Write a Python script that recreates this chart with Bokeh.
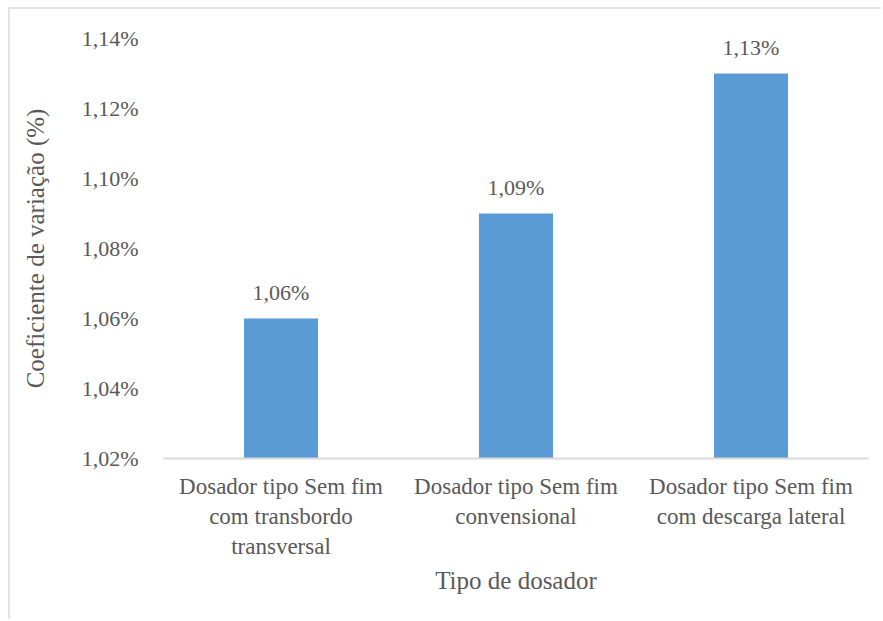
from bokeh.plotting import figure
from bokeh.models import ColumnDataSource, FixedTicker, CustomJSTickFormatter
from bokeh.core.properties import value
from bokeh.embed import file_html
from bokeh.resources import INLINE

# Data: coefficient of variation per feeder type
categories = [
    "Dosador tipo Sem fim\ncom transbordo\ntransversal",
    "Dosador tipo Sem fim\nconvensional",
    "Dosador tipo Sem fim\ncom descarga lateral",
]
cv_values = [1.06, 1.09, 1.13]
value_labels = ["1,06%", "1,09%", "1,13%"]
y_ticks = [1.02, 1.04, 1.06, 1.08, 1.10, 1.12, 1.14]

FONT = "Liberation Serif"
TEXT = "#595959"
BAR = "#5b9bd5"

src = ColumnDataSource(dict(cat=categories, val=cv_values, lab=value_labels))

p = figure(
    x_range=categories,
    y_range=(1.02, 1.14),
    width=873,
    height=612,
    output_backend="svg",
    toolbar_location=None,
    min_border_left=153,
    min_border_right=15,
    min_border_top=29,
    min_border_bottom=163,
)
p.styles = {
    "margin-left": "8px",
    "margin-top": "7px",
    "border-top": "2px solid #e4e4e4",
    "border-left": "2px solid #e4e4e4",
}

p.vbar(x="cat", top="val", bottom=1.02, width=0.315, source=src,
       fill_color=BAR, line_color=None)

# value labels above the bars
p.text(x="cat", y="val", text="lab", source=src,
       text_align="center", text_baseline="bottom", y_offset=-14,
       text_font=value(FONT), text_font_size="22px", text_color=TEXT)

p.xgrid.grid_line_color = None
p.ygrid.grid_line_color = None
p.outline_line_color = None

# y axis
p.yaxis.ticker = FixedTicker(ticks=y_ticks)
p.yaxis.formatter = CustomJSTickFormatter(
    code="return tick.toFixed(2).replace('.', ',') + '%';")
p.yaxis.axis_line_color = None
p.yaxis.major_tick_line_color = None
p.yaxis.minor_tick_line_color = None
p.yaxis.major_label_standoff = 19
p.yaxis.major_label_text_font = FONT
p.yaxis.major_label_text_font_size = "22px"
p.yaxis.major_label_text_color = TEXT
p.yaxis.axis_label = "Coeficiente de variação (%)"
p.yaxis.axis_label_text_font = FONT
p.yaxis.axis_label_text_font_size = "25px"
p.yaxis.axis_label_text_font_style = "normal"
p.yaxis.axis_label_text_color = TEXT
p.yaxis.axis_label_standoff = 30

# x axis
p.xaxis.axis_line_color = "#d9d9d9"
p.xaxis.axis_line_width = 2
p.xaxis.major_tick_line_color = None
p.xaxis.minor_tick_line_color = None
p.xaxis.major_label_standoff = 9
p.xaxis.major_label_text_font = FONT
p.xaxis.major_label_text_font_size = "23px"
p.xaxis.major_label_text_color = TEXT
p.xaxis.axis_label = "Tipo de dosador"
p.xaxis.axis_label_text_font = FONT
p.xaxis.axis_label_text_font_size = "25px"
p.xaxis.axis_label_text_font_style = "normal"
p.xaxis.axis_label_text_color = TEXT
p.xaxis.axis_label_standoff = 5

open("out.html", "w").write(file_html(p, INLINE))
